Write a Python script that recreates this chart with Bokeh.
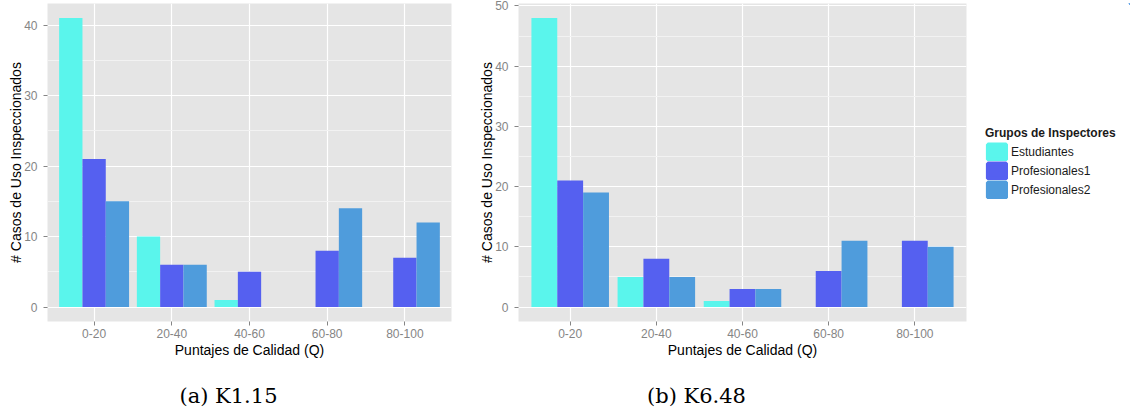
from bokeh.plotting import figure
from bokeh.models import (FactorRange, Range1d, SingleIntervalTicker, ColumnDataSource,
                          Legend, LegendItem, Label)
from bokeh.transform import dodge
from bokeh.layouts import row, column
from bokeh.embed import file_html
from bokeh.resources import INLINE

# ---------------- data ----------------
categories = ["0-20", "20-40", "40-60", "60-80", "80-100"]
groups = ["Estudiantes", "Profesionales1", "Profesionales2"]
group_colors = ["#5AF5EC", "#5560F0", "#4F9CDC"]

k115_estudiantes = [41, 10, 1, 0, 0]
k115_profesionales1 = [21, 6, 5, 8, 7]
k115_profesionales2 = [15, 6, 0, 14, 12]

k648_estudiantes = [48, 5, 1, 0, 0]
k648_profesionales1 = [21, 8, 3, 6, 11]
k648_profesionales2 = [19, 5, 3, 11, 10]

captions = ["(a) K1.15", "(b) K6.48"]
x_title = "Puntajes de Calidad (Q)"
y_title = "# Casos de Uso Inspeccionados"
legend_title = "Grupos de Inspectores"

SANS = "Liberation Sans"
TICK_COL = "#858585"
TOP_H = 362


def make_panel(series, ymax, width, min_left, min_right):
    src = ColumnDataSource(dict(cat=categories, s0=series[0], s1=series[1], s2=series[2]))
    p = figure(x_range=FactorRange(*categories, range_padding=0.1, range_padding_units="absolute"),
               y_range=Range1d(-ymax * 0.05, ymax * 1.05),
               width=width, height=TOP_H, output_backend="svg", toolbar_location=None,
               min_border_left=min_left, min_border_right=min_right,
               min_border_top=3, min_border_bottom=41)
    p.background_fill_color = "#E5E5E5"
    p.border_fill_color = "white"
    p.outline_line_color = None

    p.yaxis.ticker = SingleIntervalTicker(interval=10, num_minor_ticks=2)
    p.ygrid.grid_line_color = "white"
    p.ygrid.grid_line_width = 1.2
    p.ygrid.minor_grid_line_color = "#F2F2F2"
    p.ygrid.minor_grid_line_width = 1
    p.xgrid.grid_line_color = "white"
    p.xgrid.grid_line_width = 1.2

    for ax in (p.xaxis[0], p.yaxis[0]):
        ax.axis_line_color = None
        ax.major_tick_line_color = TICK_COL
        ax.major_tick_out = 4
        ax.major_tick_in = 0
        ax.minor_tick_line_color = None
        ax.major_label_text_font = SANS
        ax.major_label_text_font_size = "12px"
        ax.major_label_text_color = TICK_COL
        ax.axis_label_text_font = SANS
        ax.axis_label_text_font_size = "14px"
        ax.axis_label_text_font_style = "normal"
        ax.axis_label_text_color = "black"
    p.xaxis.major_label_standoff = 3
    p.yaxis.major_label_standoff = 6
    p.xaxis.axis_label = x_title
    p.yaxis.axis_label = y_title
    p.xaxis.axis_label_standoff = 1
    p.yaxis.axis_label_standoff = -3

    offsets = [-0.3, 0.0, 0.3]
    for i in range(3):
        p.vbar(x=dodge("cat", offsets[i], range=p.x_range), top="s%d" % i, bottom=0,
               width=0.3, source=src, fill_color=group_colors[i], line_color=None)
    return p


p1 = make_panel([k115_estudiantes, k115_profesionales1, k115_profesionales2], 41, 475, 47, 24)
p2 = make_panel([k648_estudiantes, k648_profesionales1, k648_profesionales2], 48, 500, 43, 9)

# ---------------- legend panel ----------------
pleg = figure(width=155, height=TOP_H, output_backend="svg", toolbar_location=None,
              x_range=Range1d(0, 1), y_range=Range1d(0, 1),
              x_axis_type=None, y_axis_type=None,
              min_border_left=0, min_border_right=0, min_border_top=0, min_border_bottom=0)
pleg.grid.visible = False
pleg.outline_line_color = None
pleg.background_fill_color = "white"
pleg.border_fill_color = "white"
items = []
for g, c in zip(groups, group_colors):
    # legend key renderer: a single swatch kept outside the visible range
    r = pleg.vbar(x=[10], top=[20], bottom=[10], width=0.3, fill_color=c,
                  line_color=c, line_width=3.8)
    items.append(LegendItem(label=g, renderers=[r]))
leg = Legend(items=items, location=(10, 122), title=legend_title,
             title_text_font=SANS, title_text_font_style="bold",
             title_text_font_size="12px", title_text_color="#1A1A1A", title_standoff=2,
             label_text_font=SANS, label_text_font_size="12px",
             label_text_color="#1A1A1A",
             glyph_width=23, glyph_height=19, spacing=0, label_standoff=3,
             label_height=19, padding=0, margin=0,
             background_fill_alpha=0, border_line_color=None)
pleg.add_layout(leg)

# ---------------- captions ----------------
pcap = figure(width=1130, height=48, output_backend="svg", toolbar_location=None,
              x_range=Range1d(0, 1), y_range=Range1d(0, 1),
              x_axis_type=None, y_axis_type=None,
              min_border_left=0, min_border_right=0, min_border_top=0, min_border_bottom=0)
pcap.grid.visible = False
pcap.outline_line_color = None
pcap.background_fill_color = "white"
pcap.border_fill_color = "white"
for txt, cx in zip(captions, [228, 696]):
    pcap.add_layout(Label(x=cx, y=15, x_units="screen", y_units="screen", text=txt,
                          text_align="center", text_baseline="middle",
                          text_font="DejaVu Serif", text_font_size="21px",
                          text_color="black"))

layout = column(row(p1, p2, pleg), pcap)

open("out.html", "w").write(file_html(layout, INLINE))
